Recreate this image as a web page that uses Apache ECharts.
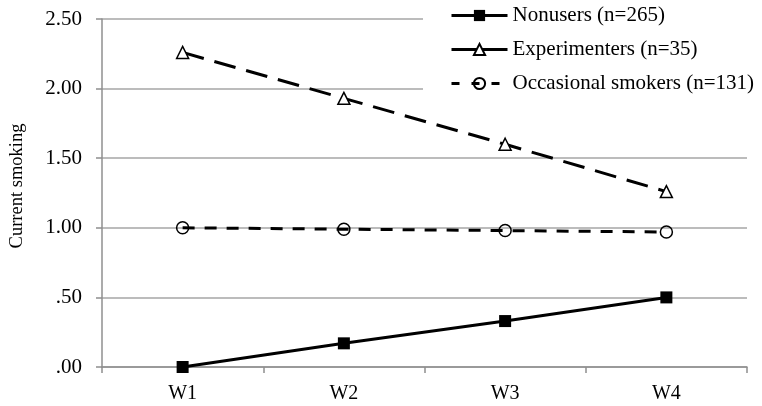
<!DOCTYPE html>
<html><head><meta charset="utf-8">
<script src="https://cdn.jsdelivr.net/npm/echarts/dist/echarts.min.js"></script>
<style>html,body{margin:0;padding:0;background:#fff}#c{width:762px;height:406px}</style>
</head><body><div id="c"></div>
<script>
const categories = ['W1', 'W2', 'W3', 'W4'];
const nonusers = [0.00, 0.17, 0.33, 0.50];
const experimenters = [2.26, 1.93, 1.60, 1.26];
const occasional = [1.00, 0.99, 0.98, 0.97];
const seriesNames = ['Nonusers (n=265)', 'Experimenters (n=35)', 'Occasional smokers (n=131)'];
const yTickLabels = ['.00', '.50', '1.00', '1.50', '2.00', '2.50'];
const yAxisTitle = 'Current smoking';

const FONT = '"Liberation Serif", "Times New Roman", serif';
const chart = echarts.init(document.getElementById('c'), null, {renderer: 'canvas'});
chart.setOption({
  animation: false,
  backgroundColor: '#fff',
  grid: {left: 99, right: 15, top: 19, bottom: 39, containLabel: false},
  legend: {
    orient: 'vertical', left: 423, top: 0,
    backgroundColor: '#fff',
    padding: [5, 4, 6, 27],
    itemWidth: 56, itemHeight: 14, itemGap: 13,
    textStyle: {fontFamily: FONT, fontSize: 21, color: '#000'},
    data: [
      {name: seriesNames[0], lineStyle: {type: 'solid', width: 3}},
      {name: seriesNames[1], lineStyle: {type: 'solid', width: 3}},
      {name: seriesNames[2], lineStyle: {type: [8, 12], width: 3}}
    ]
  },
  xAxis: {
    type: 'category', data: categories, boundaryGap: true,
    axisLine: {lineStyle: {color: '#8f8f8f', width: 1.5}},
    axisTick: {show: true, length: 6, lineStyle: {color: '#8f8f8f', width: 1.5}},
    axisLabel: {fontFamily: FONT, fontSize: 20, color: '#000', margin: 17},
    splitLine: {show: false}
  },
  yAxis: {
    type: 'value', min: 0, max: 2.5, interval: 0.5,
    name: yAxisTitle, nameLocation: 'middle', nameGap: 75, nameRotate: 90,
    nameTextStyle: {fontFamily: FONT, fontSize: 18.5, color: '#000', padding: [0, 0, 0, 14]},
    axisLine: {show: true, lineStyle: {color: '#8f8f8f', width: 1.5}},
    axisTick: {show: true, length: 6, lineStyle: {color: '#8f8f8f', width: 1.5}},
    axisLabel: {fontFamily: FONT, fontSize: 21, color: '#000', margin: 20,
      formatter: v => yTickLabels[Math.round(v / 0.5)]},
    splitLine: {show: true, lineStyle: {color: '#a6a6a6', width: 1.5}}
  },
  series: [
    {
      name: seriesNames[0], type: 'line', data: nonusers,
      symbol: 'rect', symbolSize: 12,
      itemStyle: {color: '#000', borderColor: '#000', borderWidth: 0},
      lineStyle: {color: '#000', width: 3, type: 'solid'}
    },
    {
      name: seriesNames[1], type: 'line', data: experimenters,
      symbol: 'triangle', symbolSize: 12,
      itemStyle: {color: '#fff', borderColor: '#000', borderWidth: 1.5},
      lineStyle: {color: '#000', width: 3, type: [22, 11]}
    },
    {
      name: seriesNames[2], type: 'line', data: occasional,
      symbol: 'circle', symbolSize: 12,
      itemStyle: {color: 'rgba(255,255,255,0)', borderColor: '#000', borderWidth: 1.5},
      lineStyle: {color: '#000', width: 3, type: [12, 10]}
    }
  ]
});
</script></body></html>
